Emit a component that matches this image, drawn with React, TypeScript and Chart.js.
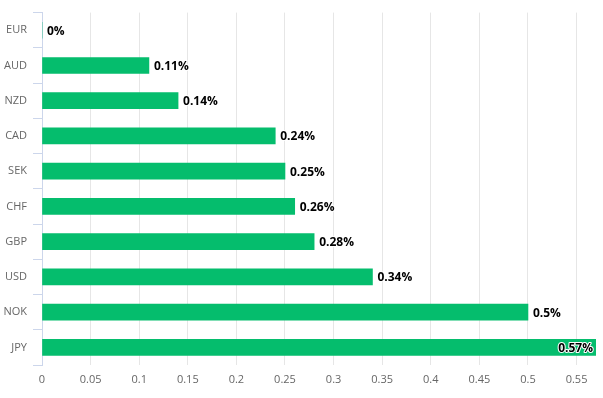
import React, { useEffect, useRef } from "react";
import { Chart, registerables } from "chart.js";

Chart.register(...registerables);

const categories = ["EUR", "AUD", "NZD", "CAD", "SEK", "CHF", "GBP", "USD", "NOK", "JPY"];
const values = [0, 0.11, 0.14, 0.24, 0.25, 0.26, 0.28, 0.34, 0.5, 0.57];
const xMin = 0;
const xMax = 0.57;
const xStep = 0.05;

const FONT = "'Open Sans', sans-serif";

const labelPlugin = {
  id: "barLabels",
  afterDatasetsDraw(chart: any) {
    const ctx = chart.ctx;
    const meta = chart.getDatasetMeta(0);
    const area = chart.chartArea;
    ctx.save();
    ctx.font = `bold 12px ${FONT}`;
    ctx.textBaseline = "middle";
    ctx.lineJoin = "round";
    meta.data.forEach((bar: any, i: number) => {
      const text = `${values[i]}%`;
      const w = ctx.measureText(text).width;
      let x = bar.x + 5;
      let align: CanvasTextAlign = "left";
      if (x + w > area.right) {
        x = bar.x - 3;
        align = "right";
      }
      ctx.textAlign = align;
      ctx.strokeStyle = "#ffffff";
      ctx.lineWidth = 2;
      ctx.strokeText(text, x, bar.y + 1);
      ctx.fillStyle = "#000000";
      ctx.fillText(text, x, bar.y + 1);
    });
    ctx.restore();
  },
};

export default function App() {
  const ref = useRef<HTMLCanvasElement>(null);
  useEffect(() => {
    document.body.style.margin = "0";
    const chart = new Chart(ref.current!, {
      type: "bar",
      data: {
        labels: categories,
        datasets: [
          {
            data: values,
            backgroundColor: "#05bd6d",
            borderWidth: 0,
            barThickness: 16,
          },
        ],
      },
      options: {
        indexAxis: "y",
        responsive: false,
        animation: false,
        layout: { padding: { top: 11.5, right: 7, left: 0, bottom: 0 } },
        plugins: { legend: { display: false }, tooltip: { enabled: false } },
        scales: {
          y: {
            type: "category",
            offset: true,
            grid: {
              offset: true,
              drawOnChartArea: false,
              drawTicks: true,
              tickLength: 9,
              color: "#ccd6eb",
            },
            border: { color: "#ccd6eb", width: 1 },
            ticks: { color: "#666666", font: { family: FONT, size: 11 }, padding: 6 },
            afterFit: (s: any) => {
              s.width = 42;
            },
          },
          x: {
            type: "linear",
            min: xMin,
            max: xMax,
            grid: { color: "#e6e6e6", drawTicks: false },
            border: { display: false },
            ticks: {
              stepSize: xStep,
              includeBounds: false,
              color: "#666666",
              font: { family: FONT, size: 11 },
              padding: 8,
              callback: (v: any) => String(parseFloat(Number(v).toFixed(2))),
            },
            afterFit: (s: any) => {
              s.height = 33;
            },
          },
        },
      },
      plugins: [labelPlugin],
    });
    return () => chart.destroy();
  }, []);
  return <canvas ref={ref} width={603} height={398} style={{ display: "block" }} />;
}
